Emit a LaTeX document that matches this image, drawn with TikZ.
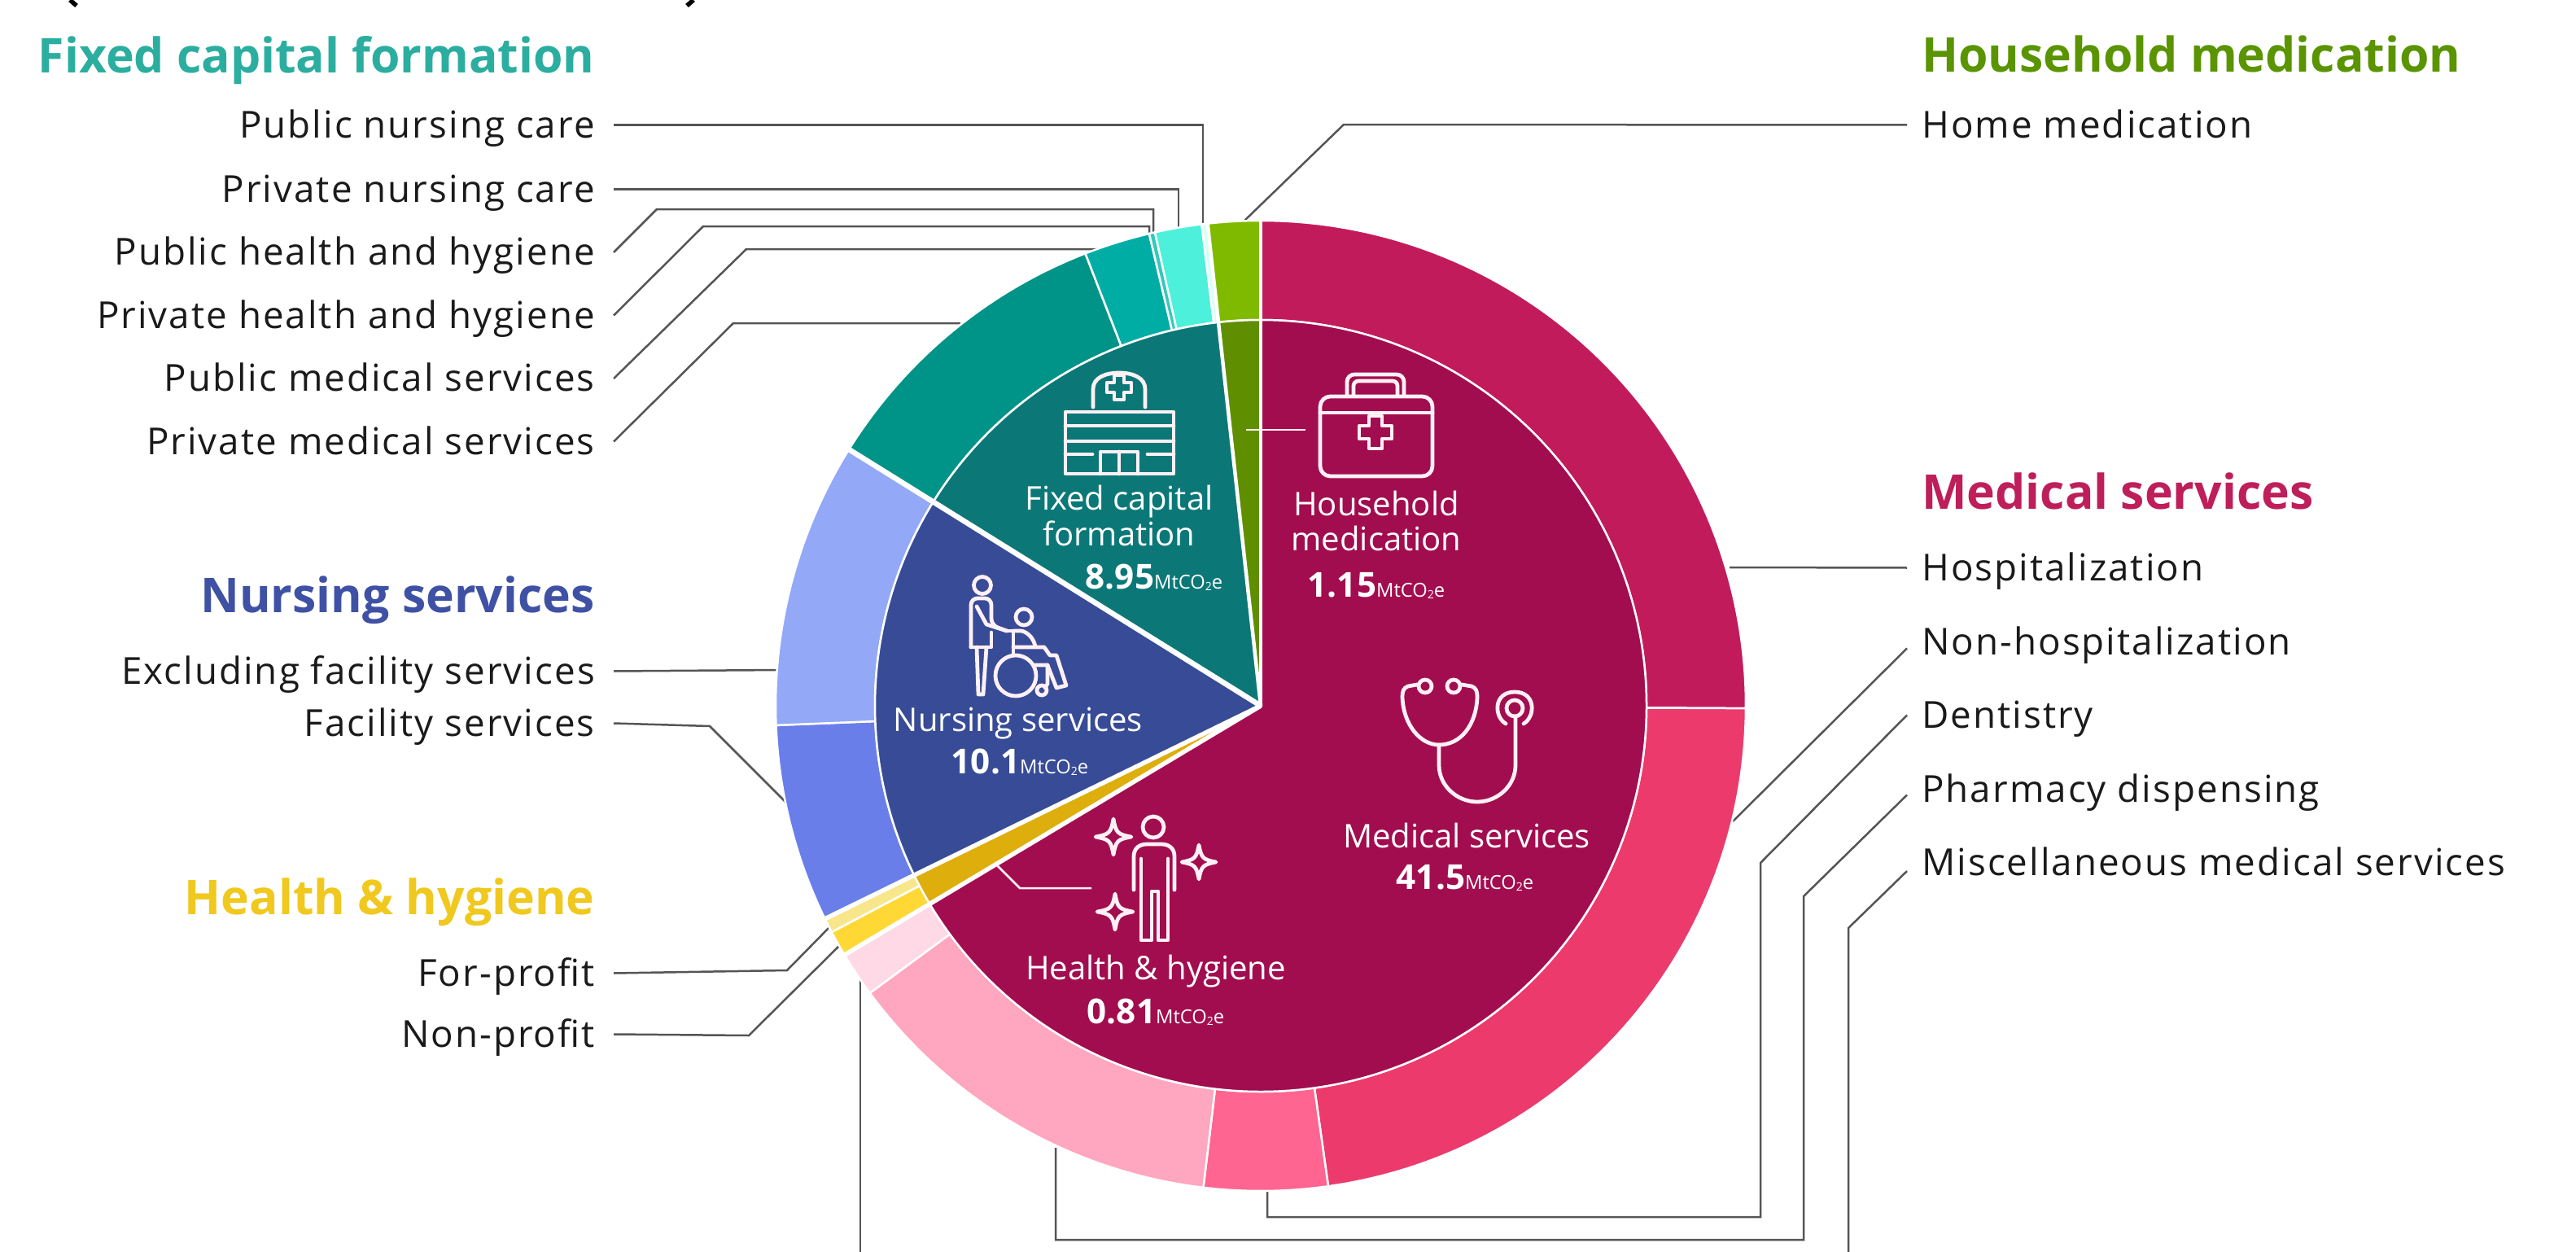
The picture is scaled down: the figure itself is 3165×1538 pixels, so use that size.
\documentclass[tikz,border=0pt]{standalone}
\usepackage{fontspec}
\setmainfont{Open Sans}
\newfontfamily\lablfont[LetterSpace=4.5]{Open Sans}
\definecolor{cHosp}{HTML}{C21B5C}
\definecolor{cNonH}{HTML}{EC3A6C}
\definecolor{cDent}{HTML}{FF6590}
\definecolor{cPharm}{HTML}{FFA6C0}
\definecolor{cMisc}{HTML}{FFD9E5}
\definecolor{cMedI}{HTML}{A20D4F}
\definecolor{cFM}{HTML}{009488}
\definecolor{cFPM}{HTML}{00ADA5}
\definecolor{cFH}{HTML}{33C9BC}
\definecolor{cFN}{HTML}{4DF0DA}
\definecolor{cFP}{HTML}{D5FFF7}
\definecolor{cFixI}{HTML}{0B7877}
\definecolor{cHomeO}{HTML}{7FBA00}
\definecolor{cHomeI}{HTML}{5F8E00}
\definecolor{cExcl}{HTML}{94A8F8}
\definecolor{cFac}{HTML}{6A7EEA}
\definecolor{cNurI}{HTML}{384B96}
\definecolor{cPale}{HTML}{F8E68A}
\definecolor{cYel}{HTML}{FFD835}
\definecolor{cGold}{HTML}{DDAE0C}
\definecolor{hFix}{HTML}{2BAE9F}
\definecolor{hHome}{HTML}{5A9400}
\definecolor{hMed}{HTML}{BE1E5A}
\definecolor{hNur}{HTML}{3F51A5}
\definecolor{hHyg}{HTML}{F0C81E}
\definecolor{leadc}{HTML}{555555}
\definecolor{iconc}{HTML}{FFF0F5}
\definecolor{textc}{HTML}{1A1A1A}
\newcommand{\sect}[5]{\filldraw[fill=#5,draw=white,line width=0.05cm] (#3:#1) -- (#3:#2) arc[start angle=#3,end angle=#4,radius=#2] -- (#4:#1) arc[start angle=#4,end angle=#3,radius=#1] -- cycle;}
\newcommand{\wedgeI}[4]{\filldraw[fill=#4,draw=white,line width=0.05cm] (0,0) -- (#2:#1) arc[start angle=#2,end angle=#3,radius=#1] -- cycle;}
\newcommand{\sepline}[2]{\draw[white,line width=#2] (0,0) -- (#1:596);}
\newcommand{\lablL}[4]{\node[lablL] (#1) at (#2,#3) {#4};}
\newcommand{\lablR}[4]{\node[lablR] (#1) at (#2,#3) {#4};}
\newcommand{\valtext}[1]{{\fontsize{24}{28}\selectfont\bfseries #1}{\fontsize{13.5}{16}\selectfont MtCO\raisebox{-1.6pt}{\fontsize{8}{9}\selectfont 2}e}}
\newcommand{\crossicon}[4]{\draw[icon] (#1,#2) ++(-#4,-#3) -- ++(0,{-(#3-#4)}) -- ++({2*#4},0) -- ++(0,{#3-#4}) -- ++({#3-#4},0) -- ++(0,{2*#4}) -- ++({-(#3-#4)},0) -- ++(0,{#3-#4}) -- ++({-2*#4},0) -- ++(0,{-(#3-#4)}) -- ++({-(#3-#4)},0) -- ++(0,{-2*#4}) -- cycle;}
\newcommand{\sparkle}[3]{\draw[icon] (#1,{#2-#3}) .. controls (#1+3,{#2-5}) and (#1+5,{#2-3}) .. ({#1+#3},#2) .. controls (#1+5,#2+3) and (#1+3,#2+5) .. (#1,{#2+#3}) .. controls (#1-3,#2+5) and (#1-5,#2+3) .. ({#1-#3},#2) .. controls (#1-5,#2-3) and (#1-3,#2-5) .. cycle;}
\tikzset{
  lablL/.style={anchor=base east,inner ysep=0pt,inner xsep=13pt,text=textc,font=\lablfont\fontsize{26}{30}\selectfont,text height=20.5pt,text depth=2.85pt},
  lablR/.style={anchor=base west,inner ysep=0pt,inner xsep=10.2pt,text=textc,font=\lablfont\fontsize{26}{30}\selectfont,text height=20.5pt,text depth=2.85pt},
  headL/.style={anchor=base east,inner sep=0pt,font=\fontsize{33.5}{38}\selectfont\bfseries},
  headR/.style={anchor=base west,inner sep=0pt,font=\fontsize{33.5}{38}\selectfont\bfseries},
  inname/.style={anchor=base,inner sep=0pt,text=white,font=\fontsize{22.8}{26}\selectfont},
  leader/.style={draw=leadc,line width=0.05cm,line join=miter},
  inlead/.style={draw=iconc,line width=0.05cm,line join=miter},
  icon/.style={draw=iconc,line width=0.095cm,line join=round,line cap=round,fill=none},
}
\begin{document}
\begin{tikzpicture}[x=0.02cm,y=-0.02cm]
\useasboundingbox (0,0) rectangle (3165,1538);
% cut-off brackets at the top edge
\draw[black,line width=0.11cm] (86,0) -- (94,7);
\draw[black,line width=0.11cm] (852,0) -- (844,7);
% headings
\node[headL,text=hFix] (hdFix) at (731,89) {Fixed capital formation};
\node[headL,text=hNur] (hdNur) at (731,752) {Nursing services};
\node[headL,text=hHyg] (hdHyg) at (731,1123) {Health \& hygiene};
\node[headR,text=hHome] (hdHome) at (2361,88) {Household medication};
\node[headR,text=hMed] (hdMed) at (2361,625) {Medical services};
% labels
\lablL{lPN}{754}{169}{Public nursing care}
\lablL{lVN}{754}{248}{Private nursing care}
\lablL{lPH}{754}{325.5}{Public health and hygiene}
\lablL{lVH}{754}{403}{Private health and hygiene}
\lablL{lPM}{754}{480.5}{Public medical services}
\lablL{lVM}{754}{558}{Private medical services}
\lablL{lEx}{754}{840}{Excluding facility services}
\lablL{lFa}{754}{904}{Facility services}
\lablL{lFP}{754}{1211}{For-profit}
\lablL{lNP}{754}{1286}{Non-profit}
\lablR{lHome}{2343}{169}{Home medication}
\lablR{lHosp}{2343}{713}{Hospitalization}
\lablR{lNonH}{2343}{804}{Non-hospitalization}
\lablR{lDent}{2343}{894}{Dentistry}
\lablR{lPhar}{2343}{985}{Pharmacy dispensing}
\lablR{lMisc}{2343}{1075}{Miscellaneous medical services}
% chart-side connector points
\coordinate (ePN) at (1478,278);
\coordinate (eVN) at (1448,284);
\coordinate (bPH) at (807,257);
\coordinate (ePH) at (1417,292);
\coordinate (bVH) at (864,278);
\coordinate (eVH) at (1412,294);
\coordinate (bPM) at (917,306);
\coordinate (ePM) at (1350,306);
\coordinate (bVM) at (901,397);
\coordinate (eVM) at (1180,397);
\coordinate (eEx) at (960,823);
\coordinate (bFa) at (872,892);
\coordinate (eFa) at (972,992);
\coordinate (bFP) at (967,1192);
\coordinate (eFP) at (1022,1136);
\coordinate (bNP) at (920,1272);
\coordinate (eNP) at (1032,1161);
\coordinate (bHome) at (1651,153);
\coordinate (eHome) at (1528,272);
\coordinate (eHosp) at (2125,697);
\coordinate (eNonH) at (2129,1009);
\coordinate (bDent) at (2163,1060);
\coordinate (cDent) at (2163,1495);
\coordinate (eDent) at (1557,1460);
\coordinate (bPhar) at (2216,1101);
\coordinate (cPhar) at (2216,1523);
\coordinate (ePhar) at (1297,1410);
\coordinate (bMisc) at (2271,1140);
\coordinate (fMisc) at (2271,1538);
\coordinate (fMisB) at (1057,1538);
\coordinate (eMisc) at (1057,1200);
% connectors
\draw[leader] (lPN.east) -| (ePN);
\draw[leader] (lVN.east) -| (eVN);
\draw[leader] (lPH.east) -- (bPH) -| (ePH);
\draw[leader] (lVH.east) -- (bVH) -| (eVH);
\draw[leader] (lPM.east) -- (bPM) -- (ePM);
\draw[leader] (lVM.east) -- (bVM) -- (eVM);
\draw[leader] (lEx.east) -- (eEx);
\draw[leader] (lFa.east) -- (bFa) -- (eFa);
\draw[leader] (lFP.east) -- (bFP) -- (eFP);
\draw[leader] (lNP.east) -- (bNP) -- (eNP);
\draw[leader] (lHome.west) -- (bHome) -- (eHome);
\draw[leader] (lHosp.west) -- (eHosp);
\draw[leader] ([yshift=-4.5pt]lNonH.west) -- (eNonH);
\draw[leader] (lDent.west) -- (bDent) -- (cDent) -| (eDent);
\draw[leader] ([yshift=-4pt]lPhar.west) -- (bPhar) -- (cPhar) -| (ePhar);
\draw[leader] ([yshift=-6pt]lMisc.west) -- (bMisc) -- (fMisc);
\draw[leader] (fMisB) -- (eMisc);
% chart
\begin{scope}[shift={(1549,867)},x=0.02cm,y=0.02cm]
  \def\ri{474}\def\ro{596}
  \sect{\ri}{\ro}{90}{-0.3}{cHosp}
  \sect{\ri}{\ro}{-0.3}{-82}{cNonH}
  \sect{\ri}{\ro}{-82}{-96.8}{cDent}
  \sect{\ri}{\ro}{-96.8}{-143.7}{cPharm}
  \sect{\ri}{\ro}{-143.7}{-149.1}{cMisc}
  \sect{\ri}{\ro}{-149.1}{-152.2}{cYel}
  \sect{\ri}{\ro}{-152.2}{-153.95}{cPale}
  \sect{\ri}{\ro}{206.05}{182.3}{cFac}
  \sect{\ri}{\ro}{182.3}{148.1}{cExcl}
  \sect{\ri}{\ro}{148.1}{111.2}{cFM}
  \sect{\ri}{\ro}{111.2}{103.3}{cFPM}
  \sect{\ri}{\ro}{103.3}{102.6}{cFH}
  \sect{\ri}{\ro}{102.6}{97.0}{cFN}
  \sect{\ri}{\ro}{97.0}{96.3}{cFP}
  \sect{\ri}{\ro}{96.3}{90}{cHomeO}
  \wedgeI{\ri}{90}{-149.1}{cMedI}
  \wedgeI{\ri}{-149.1}{-153.95}{cGold}
  \wedgeI{\ri}{206.05}{148.1}{cNurI}
  \wedgeI{\ri}{148.1}{96.3}{cFixI}
  \wedgeI{\ri}{96.3}{90}{cHomeI}
  \sepline{148.1}{0.13cm}
  \sepline{206.05}{0.11cm}
  \sepline{-149.1}{0.11cm}
  \sepline{96.3}{0.09cm}
  \sepline{90}{0.07cm}
\end{scope}
% connectors inside the chart
\coordinate (iH0) at (1531,528);
\coordinate (iH1) at (1604,528);
\coordinate (iY0) at (1225,1063);
\coordinate (iY1) at (1253,1091);
\coordinate (iY2) at (1341,1091);
\draw[inlead] (iH0) -- (iH1);
\draw[inlead] (iY0) -- (iY1) -- (iY2);
% hospital icon
\draw[icon] (1343,500) -- (1343,478) .. controls (1343,464) and (1358,458) .. (1375,458) .. controls (1392,458) and (1407,464) .. (1407,478) -- (1407,500);
\crossicon{1375}{485}{15}{6}
\draw[icon] (1309,506) rectangle (1442,582);
\draw[icon] (1309,523) -- (1442,523);
\draw[icon] (1309,542) -- (1442,542);
\draw[icon] (1309,558) -- (1342,558);
\draw[icon] (1410,558) -- (1442,558);
\draw[icon] (1352,582) -- (1352,555) -- (1398,555) -- (1398,582);
\draw[icon] (1375,555) -- (1375,582);
% briefcase icon
\draw[icon,rounded corners=0.25cm] (1622,487) rectangle (1760,585);
\draw[icon] (1622,507) -- (1760,507);
\draw[icon,rounded corners=0.18cm] (1655,486) -- (1655,460) -- (1725,460) -- (1725,486);
\draw[icon,rounded corners=0.12cm] (1663,486) -- (1663,468) -- (1717,468) -- (1717,486);
\crossicon{1690}{543}{20}{8}
% carer and wheelchair icon
\draw[icon] (1207,719) circle[radius=10.5];
\draw[icon,rounded corners=0.16cm] (1193,795) -- (1193,735) -- (1218,735) -- (1218,768) -- (1237,775);
\draw[icon] (1200,745) -- (1212,767) -- (1237,775);
\draw[icon] (1218,777) -- (1218,795) -- (1193,795);
\draw[icon] (1200,795) -- (1202,853) -- (1208,853) -- (1212,795);
\draw[icon] (1258,758) circle[radius=10];
\draw[icon] (1237,775) -- (1245,775) -- (1245,805);
\draw[icon] (1245,775) -- (1255,775) .. controls (1264,777) and (1270,785) .. (1272,794);
\draw[icon] (1245,795) -- (1283,795) -- (1290,805) -- (1298,805) -- (1310,842) -- (1298,845) -- (1287,817) -- (1272,817);
\draw[icon] (1248,830) circle[radius=25];
\draw[icon] (1287,817) -- (1287,840) -- (1284,845);
\draw[icon] (1280,848) circle[radius=6];
% stethoscope icon
\draw[icon] (1751,843) circle[radius=8];
\draw[icon] (1786,843) circle[radius=8];
\draw[icon] (1741,841) -- (1730,843) .. controls (1724,845) and (1723,850) .. (1723,856) .. controls (1724,890) and (1745,915) .. (1768,915) .. controls (1795,915) and (1814,890) .. (1815,856) .. controls (1815,850) and (1814,845) .. (1808,843) -- (1796,841);
\draw[icon] (1768,915) -- (1768,940) .. controls (1768,965) and (1790,985) .. (1815,985) .. controls (1840,985) and (1862,965) .. (1862,940) -- (1862,880);
\draw[icon] (1861,870) circle[radius=10];
\draw[icon] (1850,889) .. controls (1835,880) and (1835,850) .. (1861,850) .. controls (1887,850) and (1887,880) .. (1872,889);
% person with sparkles icon
\draw[icon] (1417,1016) circle[radius=13];
\draw[icon] (1393,1093) -- (1393,1052) .. controls (1393,1042) and (1400,1037) .. (1409,1037) -- (1427,1037) .. controls (1436,1037) and (1443,1042) .. (1443,1052) -- (1443,1093);
\draw[icon] (1402,1055) -- (1402,1155) -- (1415,1155) -- (1415,1095) -- (1423,1095) -- (1423,1155) -- (1435,1155) -- (1435,1055);
\sparkle{1368}{1028}{22}
\sparkle{1473}{1059}{21}
\sparkle{1370}{1120}{22}
% texts inside the chart
\node[inname] (tF1) at (1375,626) {Fixed capital};
\node[inname] (tF2) at (1375,670) {formation};
\node[inname] (tFv) at (1418,723) {\valtext{8.95}};
\node[inname] (tH1) at (1691,633) {Household};
\node[inname] (tH2) at (1691,676) {medication};
\node[inname] (tHv) at (1691,733) {\valtext{1.15}};
\node[inname] (tN1) at (1251,898) {Nursing services};
\node[inname] (tNv) at (1253,950) {\valtext{10.1}};
\node[inname] (tM1) at (1802,1041) {Medical services};
\node[inname] (tMv) at (1800,1092) {\valtext{41.5}};
\node[inname] (tY1) at (1420,1203) {Health \& hygiene};
\node[inname] (tYv) at (1420,1257) {\valtext{0.81}};
\end{tikzpicture}
\end{document}
